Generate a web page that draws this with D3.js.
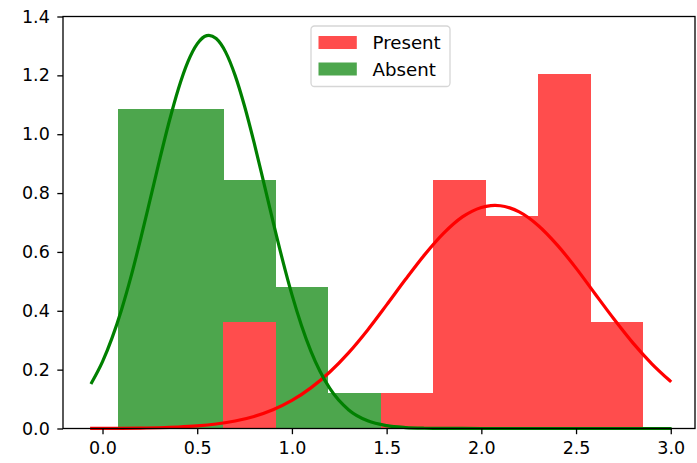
<!DOCTYPE html>
<html>
<head>
<meta charset="utf-8">
<script src="https://cdn.jsdelivr.net/npm/d3@7"></script>
<style>
  body { margin: 0; background: #fff; }
  svg { display: block; }
  text { font-family: "DejaVu Sans", sans-serif; fill: #000; }
</style>
</head>
<body>
<svg id="chart" width="697" height="463"></svg>
<script>
// ---- data ----
const seriesNames = ["Present", "Absent"];
const presentEdges = [0.638, 0.915, 1.191, 1.468, 1.745, 2.021, 2.298, 2.575, 2.852];
const presentDensity = [0.361, 0, 0, 0.120, 0.843, 0.723, 1.205, 0.361];
const absentEdges = [0.0835, 0.360, 0.637, 0.913, 1.190, 1.466];
const absentDensity = [1.084, 1.084, 0.843, 0.482, 0.120];

const presentCurveX = [-0.057, 0.0, 0.1, 0.2, 0.3, 0.4, 0.5, 0.6, 0.7, 0.8, 0.9, 1.0, 1.1, 1.2, 1.3, 1.4, 1.5,
                       1.6, 1.7, 1.8, 1.9, 1.95, 2.0, 2.05, 2.072, 2.1, 2.15, 2.2, 2.3, 2.4, 2.5, 2.6, 2.7,
                       2.8, 2.9, 2.996];
const presentCurve = [0.0002, 0.0003, 0.0007, 0.0014, 0.0026, 0.0049, 0.0088, 0.0152, 0.0253, 0.0408, 0.0635,
                      0.0952, 0.138, 0.192, 0.258, 0.335, 0.420, 0.507, 0.590, 0.663, 0.719, 0.738, 0.751,
                      0.7573, 0.758, 0.757, 0.7497, 0.736, 0.690, 0.624, 0.545, 0.458, 0.372, 0.291, 0.220, 0.162];
const absentCurveX = [-0.057, 0.0, 0.05, 0.1, 0.15, 0.2, 0.25, 0.3, 0.35, 0.4, 0.45, 0.5, 0.55, 0.562, 0.6,
                      0.65, 0.7, 0.75, 0.8, 0.85, 0.9, 0.95, 1.0, 1.05, 1.1, 1.2, 1.3, 1.4, 1.5, 1.6, 1.7,
                      1.8, 1.9, 2.0, 2.5, 2.996];
const absentCurve = [0.156, 0.227, 0.307, 0.403, 0.515, 0.641, 0.774, 0.909, 1.038, 1.153, 1.245, 1.307, 1.335,
                     1.336, 1.325, 1.279, 1.200, 1.095, 0.972, 0.839, 0.704, 0.574, 0.455, 0.351, 0.263,
                     0.136, 0.063, 0.026, 0.0096, 0.0032, 0.0009, 0.0002, 0.0001, 0, 0, 0];
const xTicks = [0.0, 0.5, 1.0, 1.5, 2.0, 2.5, 3.0];
const yTicks = [0.0, 0.2, 0.4, 0.6, 0.8, 1.0, 1.2, 1.4];

// ---- layout ----
const L = 63, R = 695, T = 16.5, B = 428.5;
const barColor = { Present: "#ff4d4d", Absent: "#4da64d" };
const lineColor = { Present: "#ff0000", Absent: "#008000" };

const svg = d3.select("#chart");
const x = d3.scaleLinear().domain([-0.2086, 3.128]).range([L, R]);
const y = d3.scaleLinear().domain([0, 1.4]).range([B, T]);

function bins(edges, dens) {
  return dens.map((d, i) => ({ x0: edges[i], x1: edges[i + 1], v: d }));
}

const plot = svg.append("g");

// Absent bars first, Present bars on top
[["Absent", bins(absentEdges, absentDensity)], ["Present", bins(presentEdges, presentDensity)]]
  .forEach(([name, data]) => {
    plot.append("g").attr("shape-rendering", "crispEdges").selectAll("rect")
      .data(data.filter(d => d.v > 0))
      .join("rect")
      .attr("x", d => x(d.x0))
      .attr("width", d => x(d.x1) - x(d.x0) + 0.5)
      .attr("y", d => y(d.v))
      .attr("height", d => y(0) - y(d.v))
      .attr("fill", barColor[name]);
  });

const line = d3.line().x(d => x(d[0])).y(d => y(d[1])).curve(d3.curveMonotoneX);
[["Present", presentCurveX, presentCurve], ["Absent", absentCurveX, absentCurve]].forEach(([name, xs, vals]) => {
  plot.append("path")
    .datum(xs.map((cx, i) => [cx, vals[i]]))
    .attr("d", line)
    .attr("fill", "none")
    .attr("stroke", lineColor[name])
    .attr("stroke-width", 3.2)
    .attr("stroke-linecap", "square");
});

// axes
const fs = 17.5;
const xAxis = svg.append("g").attr("transform", `translate(0,${B})`)
  .call(d3.axisBottom(x).tickValues(xTicks).tickFormat(d3.format(".1f")).tickSize(5.7).tickPadding(7.5));
const yAxis = svg.append("g").attr("transform", `translate(${L},0)`)
  .call(d3.axisLeft(y).tickValues(yTicks).tickFormat(d3.format(".1f")).tickSize(5.7).tickPadding(7.5));
[xAxis, yAxis].forEach(a => {
  a.select(".domain").remove();
  a.selectAll(".tick line").attr("stroke", "#000").attr("stroke-width", 1.3);
  a.selectAll(".tick text").attr("font-size", fs).attr("font-family", "DejaVu Sans").attr("fill", "#000");
});

// spines
svg.append("rect")
  .attr("x", L).attr("y", T).attr("width", R - L).attr("height", B - T)
  .attr("fill", "none").attr("stroke", "#000").attr("stroke-width", 1.3);

// legend
const lg = svg.append("g");
lg.append("rect")
  .attr("x", 311).attr("y", 26).attr("width", 139).attr("height", 60.5)
  .attr("rx", 3.5).attr("fill", "#fff").attr("fill-opacity", 0.8)
  .attr("stroke", "#d6d6d6").attr("stroke-width", 1.3);
seriesNames.forEach((name, i) => {
  const yy = 36 + i * 26.5;
  lg.append("rect").attr("x", 318.5).attr("y", yy).attr("width", 38.3).attr("height", 13)
    .attr("fill", barColor[name]);
  lg.append("text").attr("x", 372.5).attr("y", yy + 13.2)
    .attr("font-size", 18.2).text(name);
});
</script>
</body>
</html>
